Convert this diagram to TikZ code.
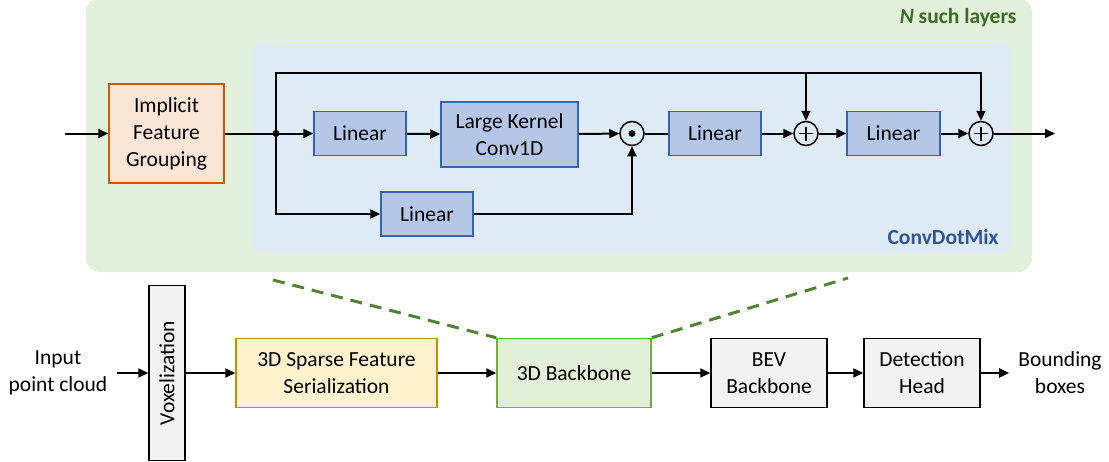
\documentclass[tikz,border=0pt]{standalone}
\usepackage{fontspec}
\setmainfont{Carlito}
\usetikzlibrary{arrows.meta}

\definecolor{layergreen}{HTML}{E2EFDA}
\definecolor{layertext}{HTML}{3B6B24}
\definecolor{mixblue}{HTML}{DEEBF7}
\definecolor{mixtext}{HTML}{2F5597}
\definecolor{linfill}{HTML}{B4C7E7}
\definecolor{linline}{HTML}{3A63AD}
\definecolor{ifgfill}{HTML}{FBE5D6}
\definecolor{ifgline}{HTML}{C55A11}
\definecolor{serfill}{HTML}{FFF2CC}
\definecolor{serline}{HTML}{BF9000}
\definecolor{bbfill}{HTML}{E2F0D9}
\definecolor{bbline}{HTML}{70AD47}
\definecolor{zoomline}{HTML}{548235}
\definecolor{greyfill}{HTML}{F2F2F2}

\begin{document}
\begin{tikzpicture}[
        x=1pt, y=-1pt,
        every node/.style={font=\fontsize{21.5}{27}\selectfont, align=center},
        block/.style={draw, line width=1.5pt, inner sep=0pt},
        linear/.style={block, fill=linfill, draw=linline, minimum width=92pt, minimum height=44pt},
        greybox/.style={block, fill=greyfill, draw=black, minimum height=69pt},
        opcircle/.style={circle, draw, line width=1.5pt, fill=mixblue, minimum size=24pt, inner sep=0pt},
        plus/.style={opcircle, path picture={
            \draw[black, line width=1.5pt] ([xshift=-7pt]path picture bounding box.center) -- ([xshift=7pt]path picture bounding box.center);
            \draw[black, line width=1.5pt] ([yshift=-7pt]path picture bounding box.center) -- ([yshift=7pt]path picture bounding box.center);}},
        hadamard/.style={opcircle, path picture={
            \fill[black] (path picture bounding box.center) circle (3.4pt);}},
        arr/.style={line width=2pt, -{Triangle[length=10pt, width=9pt]}},
        line/.style={line width=2pt},
    ]
        \useasboundingbox (0,0) rectangle (1109,461);

        % Background panels
        \fill[layergreen, rounded corners=14pt] (86,-2) rectangle (1032,272);
        \fill[mixblue, rounded corners=10pt] (252,43) rectangle (1011,253);
        \node[anchor=east, text=layertext, font=\fontsize{21.5}{27}\bfseries] (nlayers) at (1020,18) {\textit{N} such layers};
        \node[anchor=east, text=mixtext, font=\fontsize{21.5}{27}\bfseries] (mixname) at (1002,237) {ConvDotMix};

        % Define Layer Nodes
        \coordinate (lin) at (65,133.5);
        \node[block, fill=ifgfill, draw=ifgline, minimum width=115pt, minimum height=99pt] (ifg) at (166.5,133.5) {Implicit\\Feature\\Grouping};
        \coordinate (j) at (276,133.5);
        \coordinate (top) at (276,73);
        \node[linear] (lin1) at (360,133.5) {Linear};
        \node[block, fill=linfill, draw=linline, minimum width=137pt, minimum height=65pt] (lkc) at (509.5,134.5) {Large Kernel\\Conv1D};
        \node[hadamard] (dot) at (632,133.5) {};
        \node[linear] (lin2) at (427,214) {Linear};
        \node[linear] (lin3) at (715,133.5) {Linear};
        \node[plus] (add1) at (806,133.5) {};
        \node[linear, minimum width=93pt] (lin4) at (893.5,133.5) {Linear};
        \node[plus] (add2) at (981,133.5) {};
        \coordinate (lout) at (1055,133.5);

        % Define Pipeline Nodes
        \node[inner sep=9pt] (inp) at (58,373) {Input\\point cloud};
        \node[block, fill=greyfill, draw=black, minimum width=36pt, minimum height=175pt] (vox) at (167,373) {};
        \node[rotate=90] (voxtext) at (vox.center) {Voxelization};
        \node[block, fill=serfill, draw=serline, minimum width=201pt, minimum height=69pt] (ser) at (336.5,373) {3D Sparse Feature\\Serialization};
        \node[block, fill=bbfill, draw=bbline, minimum width=154pt, minimum height=69pt] (bb3d) at (574,373) {3D Backbone};
        \node[greybox, minimum width=116pt] (bev) at (769,373) {BEV\\Backbone};
        \node[greybox, minimum width=116pt] (head) at (922,373) {Detection\\Head};
        \node[inner sep=9pt] (boxes) at (1060,373) {Bounding\\boxes};

        % Draw Edges inside the layer
        \draw[arr] (lin) -- (ifg);
        \draw[line] (ifg) -- (j);
        \fill (j) circle (3.5pt);
        \draw[arr] (j) -- (lin1);
        \draw[arr] (lin1) -- (lkc);
        \draw[arr] (lkc) -- (dot);
        \draw[arr] (j) |- (lin2);
        \draw[arr] (lin2) -| (dot);
        \draw[line] (dot) -- (lin3);
        \draw[arr] (lin3) -- (add1);
        \draw[arr] (add1) -- (lin4);
        \draw[arr] (lin4) -- (add2);
        \draw[arr] (add2) -- (lout);
        \draw[arr] (j) -- (top) -| (add2);
        \draw[arr] (add1 |- top) -- (add1);

        % Draw Edges of the pipeline
        \draw[arr] (inp) -- (vox);
        \draw[arr] (vox) -- (ser);
        \draw[arr] (ser) -- (bb3d);
        \draw[arr] (bb3d) -- (bev);
        \draw[arr] (bev) -- (head);
        \draw[arr] (head) -- (boxes);

        % Dashed zoom lines from the backbone up to the layer
        \coordinate (zl) at (273,280);
        \coordinate (zr) at (848,278);
        \draw[zoomline, line width=3pt, dash pattern=on 12pt off 8pt] (zl) -- (bb3d.north west);
        \draw[zoomline, line width=3pt, dash pattern=on 12pt off 8pt] (bb3d.north east) -- (zr);
    \end{tikzpicture}
\end{document}
